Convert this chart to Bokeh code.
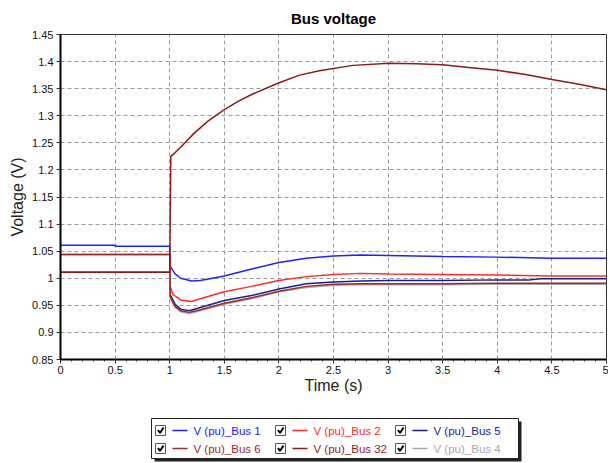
from bokeh.plotting import figure
from bokeh.models import Range1d, FixedTicker, NumeralTickFormatter
from bokeh.layouts import column
from bokeh.embed import file_html
from bokeh.resources import INLINE
from bokeh.core.properties import value

# ---------------- data ----------------
x_major = [0, 0.5, 1, 1.5, 2, 2.5, 3, 3.5, 4, 4.5, 5]
x_minor = [i / 10 for i in range(0, 51)]
y_major = [0.85, 0.9, 0.95, 1.0, 1.05, 1.1, 1.15, 1.2, 1.25, 1.3, 1.35, 1.4, 1.45]

names = ["V (pu)_Bus 1", "V (pu)_Bus 2", "V (pu)_Bus 5",
         "V (pu)_Bus 6", "V (pu)_Bus 32", "V (pu)_Bus 4"]
colors = ["#2020FF", "#FF2A2A", "#1C1C8C", "#9A2A2A", "#8B1A1A", "#A8A8A8"]

t_bus1 = [0, 0.5, 0.5, 1.0, 1.005, 1.05, 1.1, 1.2, 1.28, 1.5, 1.75, 2.0, 2.25, 2.5, 2.75, 3.0, 3.5, 4.0, 4.5, 5.0]
v_bus1 = [1.061, 1.061, 1.059, 1.059, 1.022, 1.008, 1.000, 0.995, 0.996, 1.004, 1.017, 1.029, 1.037, 1.041,
          1.043, 1.042, 1.040, 1.039, 1.037, 1.037]

t_bus2 = [0, 1.0, 1.005, 1.03, 1.1, 1.2, 1.28, 1.5, 1.75, 2.0, 2.25, 2.5, 2.75, 3.0, 3.5, 4.0, 4.5, 5.0]
v_bus2 = [1.044, 1.044, 0.985, 0.970, 0.960, 0.957, 0.962, 0.975, 0.985, 0.996, 1.003, 1.007, 1.009, 1.008,
          1.007, 1.006, 1.004, 1.004]

t_bus5 = [0, 1.0, 1.005, 1.05, 1.1, 1.18, 1.28, 1.5, 1.75, 2.0, 2.25, 2.5, 2.75, 3.0, 3.5, 4.0, 4.3, 4.4, 5.0]
v_bus5 = [1.011, 1.011, 0.970, 0.952, 0.943, 0.940, 0.946, 0.959, 0.968, 0.980, 0.990, 0.993, 0.995, 0.996,
          0.996, 0.997, 0.997, 0.999, 0.999]

t_bus6 = [0, 1.0, 1.005, 1.05, 1.1, 1.18, 1.28, 1.5, 1.75, 2.0, 2.25, 2.5, 2.75, 3.0, 3.5, 4.0, 4.5, 5.0]
v_bus6 = [1.044, 1.044, 0.965, 0.948, 0.940, 0.937, 0.942, 0.954, 0.964, 0.976, 0.985, 0.989, 0.990, 0.990,
          0.990, 0.991, 0.991, 0.991]

t_bus32 = [0, 1.0, 1.01, 1.05, 1.1, 1.22, 1.35, 1.49, 1.63, 1.77, 1.99, 2.19, 2.37, 2.68, 3.01, 3.26, 3.5,
           3.74, 4.0, 4.26, 4.5, 4.75, 5.0]
v_bus32 = [1.011, 1.011, 1.225, 1.232, 1.242, 1.267, 1.290, 1.310, 1.327, 1.341, 1.360, 1.375, 1.383, 1.393,
           1.397, 1.396, 1.394, 1.389, 1.384, 1.376, 1.367, 1.358, 1.348]

t_bus4 = [0, 1.0, 1.005, 1.05, 1.1, 1.18, 1.28, 1.5, 1.75, 2.0, 2.25, 2.5, 2.75, 3.0, 3.5, 4.0, 4.5, 5.0]
v_bus4 = [1.011, 1.011, 0.965, 0.946, 0.938, 0.935, 0.940, 0.952, 0.962, 0.975, 0.983, 0.987, 0.988, 0.988,
          0.988, 0.989, 0.989, 0.989]

series_t = [t_bus1, t_bus2, t_bus5, t_bus6, t_bus32, t_bus4]
series_v = [v_bus1, v_bus2, v_bus5, v_bus6, v_bus32, v_bus4]
draw_order = [0, 1, 2, 5, 3, 4]

FONT = "Liberation Sans"

BL, BR, FW = 60, 2, 546     # left border, right border, frame width (px)
BT, FH, BB = 34, 325, 38    # top border, frame height, bottom border

# ---------------- main plot ----------------
p = figure(frame_width=FW, frame_height=FH, output_backend="svg", toolbar_location=None,
           x_range=Range1d(0, 5), y_range=Range1d(0.85, 1.45),
           min_border_left=BL, min_border_right=BR, min_border_top=BT, min_border_bottom=BB,
           title="Bus voltage")
p.title.text_font = FONT
p.title.text_font_size = "15px"
p.title.text_font_style = "bold"
p.title.align = "center"
p.title.text_color = "#000000"
p.title.standoff = 15

p.background_fill_color = "white"
p.border_fill_color = "white"
p.outline_line_color = "#333333"
p.outline_line_width = 1

for i in draw_order:
    p.line(series_t[i], series_v[i], line_color=colors[i], line_width=1.5)

p.xaxis.ticker = FixedTicker(ticks=x_major, minor_ticks=x_minor)
p.yaxis.ticker = FixedTicker(ticks=y_major, minor_ticks=[])
p.xaxis.formatter = NumeralTickFormatter(format="0.[0]")
p.yaxis.formatter = NumeralTickFormatter(format="0.[00]")

for ax in (p.xaxis, p.yaxis):
    ax.axis_line_color = "black"
    ax.axis_line_width = 2
    ax.major_tick_line_color = "#333333"
    ax.minor_tick_line_color = "#333333"
    ax.major_tick_in = 0
    ax.minor_tick_in = 0
    ax.major_tick_out = 4
    ax.minor_tick_out = 2
    ax.major_label_text_font = FONT
    ax.major_label_text_font_size = "11px"
    ax.major_label_text_color = "#111111"
    ax.axis_label_text_font = FONT
    ax.axis_label_text_font_size = "16px"
    ax.axis_label_text_font_style = "normal"
    ax.axis_label_text_color = "#222222"

p.xaxis.axis_label = "Time (s)"
p.yaxis.axis_label = "Voltage (V)"
p.xaxis.major_label_standoff = 2
p.yaxis.major_label_standoff = 3
p.xaxis.axis_label_standoff = 0
p.yaxis.axis_label_standoff = 3

p.grid.grid_line_color = "#9a9a9a"
p.grid.grid_line_dash = "4 3"
p.grid.grid_line_width = 1

# ---------------- legend panel (frame aligned with main plot; units = px) ----------------
LH = 66
leg = figure(width=BL + FW + BR, height=LH, output_backend="svg", toolbar_location=None,
             x_range=Range1d(BL, BL + FW), y_range=Range1d(LH, 0),
             min_border_left=BL, min_border_right=BR, min_border_top=0, min_border_bottom=0,
             x_axis_location=None, y_axis_location=None)
leg.grid.visible = False
leg.outline_line_color = None
leg.background_fill_color = "white"
leg.border_fill_color = "white"

bx0, bx1, by0, by1 = 151, 518, 21, 61
leg.quad(left=[bx0 + 3], right=[bx1 + 3], top=[by0 + 3], bottom=[by1 + 3],
         fill_color="#222222", line_color=None)
leg.quad(left=[bx0], right=[bx1], top=[by0], bottom=[by1],
         fill_color="white", line_color="#222222", line_width=1)

col_x = [155, 275, 395]
row_y = [33, 51]
cb_x, cb_y, ln_x0, ln_x1, tx_x, tx_y, tcol = [], [], [], [], [], [], []
chk_xs, chk_ys = [], []
for k, nm in enumerate(names):
    cx = col_x[k % 3]
    cy = row_y[k // 3]
    cb_x.append(cx + 5)
    cb_y.append(cy)
    chk_xs.append([cx + 2.5, cx + 4.5, cx + 8])
    chk_ys.append([cy - 0.5, cy + 2.5, cy - 3])
    ln_x0.append(cx + 17)
    ln_x1.append(cx + 32)
    tx_x.append(cx + 38)
    tx_y.append(cy)
    tcol.append(colors[k])

leg.rect(x=cb_x, y=cb_y, width=10, height=10, fill_color="white",
         line_color="#555555", line_width=1)
leg.multi_line(xs=chk_xs, ys=chk_ys, line_color="black", line_width=2)
leg.segment(x0=ln_x0, y0=tx_y, x1=ln_x1, y1=tx_y, line_color=tcol, line_width=1.5)
leg.text(x=tx_x, y=tx_y, text=names, text_color=tcol, text_font=value(FONT),
         text_font_size="11.5px", text_baseline="middle", text_align="left")

layout = column(p, leg, spacing=0)
open("out.html", "w").write(file_html(layout, INLINE))
